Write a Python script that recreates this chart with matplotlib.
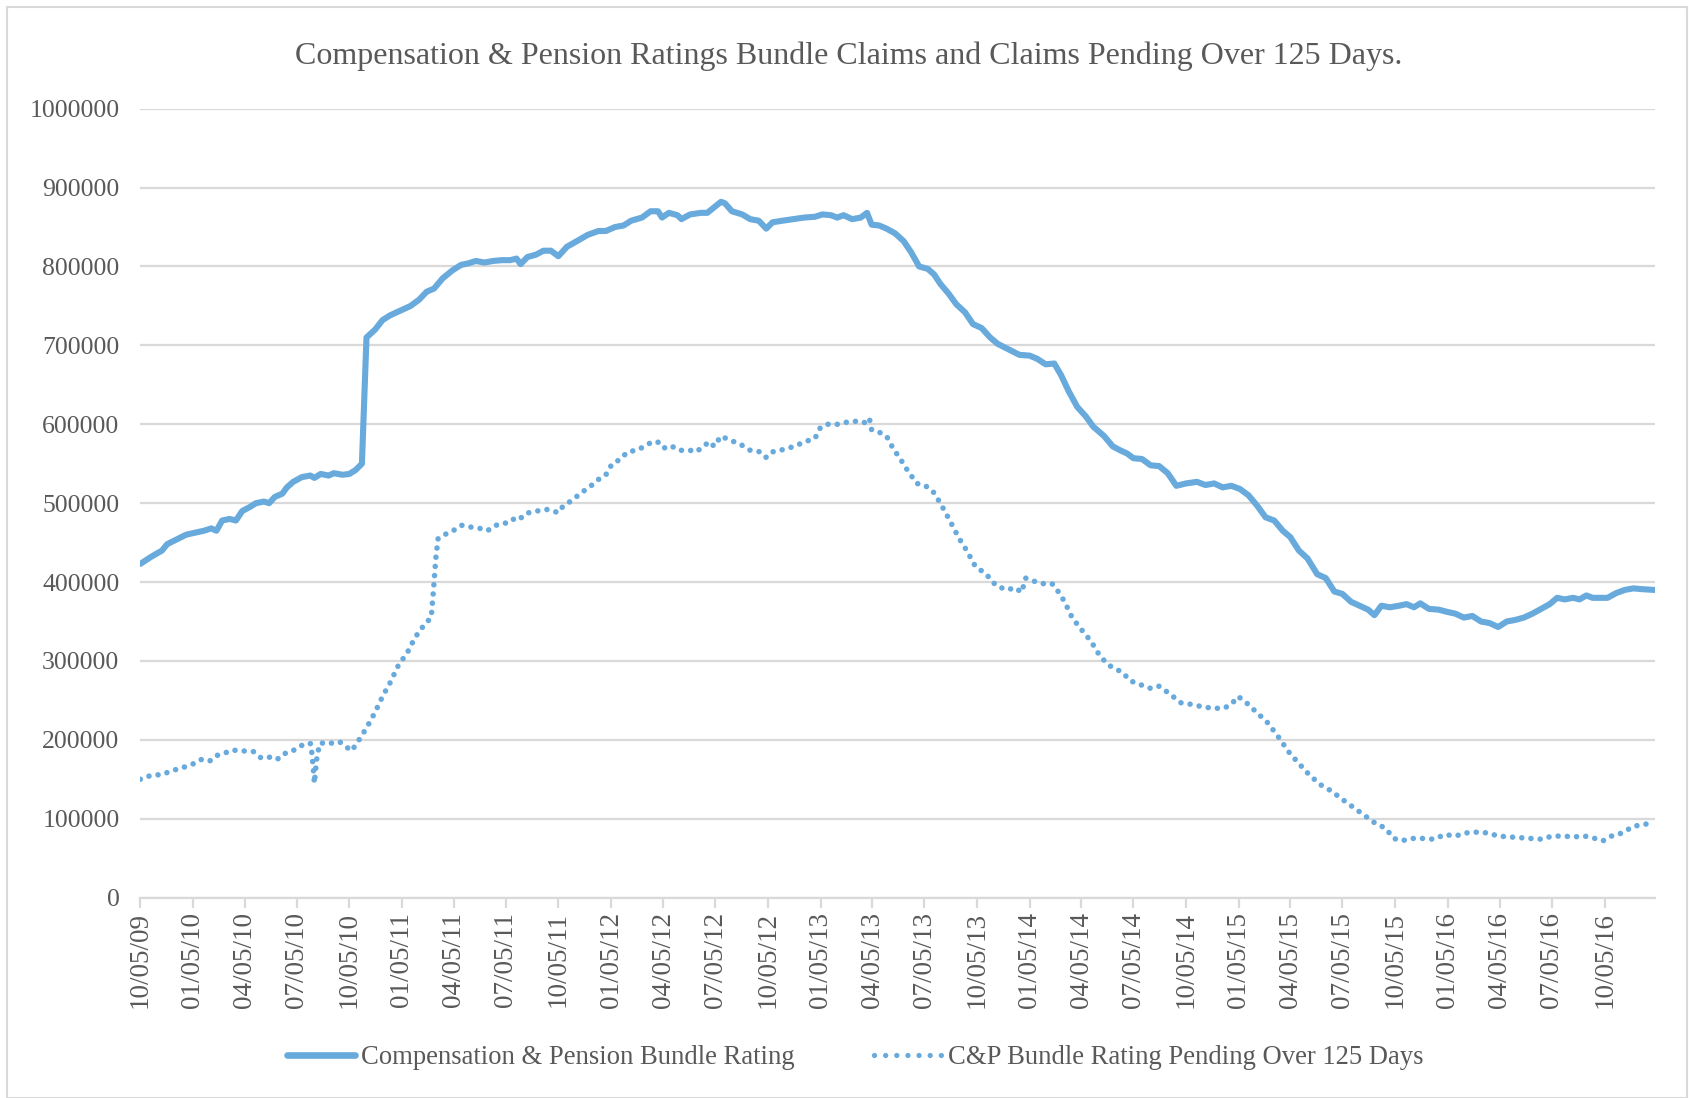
import pandas as pd
import matplotlib
matplotlib.use('Agg')
import matplotlib.pyplot as plt
import matplotlib.dates as mdates
from matplotlib.lines import Line2D
from matplotlib.patches import Rectangle
from matplotlib.ticker import MultipleLocator, FuncFormatter

# Compensation & Pension bundle rating claims
bundle_dates = [
    '2009-10-05', '2009-10-24', '2009-11-12', '2009-11-21', '2009-12-10', '2009-12-24',
    '2010-01-05', '2010-01-24', '2010-02-06', '2010-02-15', '2010-02-25', '2010-03-10',
    '2010-03-21', '2010-04-01', '2010-04-14', '2010-04-25', '2010-05-09', '2010-05-18',
    '2010-05-28', '2010-06-10', '2010-06-18', '2010-06-29', '2010-07-14', '2010-07-29',
    '2010-08-05', '2010-08-16', '2010-08-30', '2010-09-08', '2010-09-23', '2010-10-05',
    '2010-10-16', '2010-10-27', '2010-11-04', '2010-11-19', '2010-12-02', '2010-12-15',
    '2011-01-05', '2011-01-20', '2011-02-04', '2011-02-17', '2011-03-02', '2011-03-17',
    '2011-04-03', '2011-04-18', '2011-05-01', '2011-05-14', '2011-05-29', '2011-06-13',
    '2011-06-28', '2011-07-13', '2011-07-24', '2011-07-31', '2011-08-12', '2011-08-27',
    '2011-09-09', '2011-09-22', '2011-10-05', '2011-10-20', '2011-11-06', '2011-11-25',
    '2011-12-14', '2011-12-27', '2012-01-12', '2012-01-27', '2012-02-09', '2012-02-28',
    '2012-03-14', '2012-03-27', '2012-04-03', '2012-04-15', '2012-04-30', '2012-05-07',
    '2012-05-22', '2012-06-10', '2012-06-21', '2012-07-03', '2012-07-15', '2012-07-22',
    '2012-08-03', '2012-08-21', '2012-09-04', '2012-09-19', '2012-10-02', '2012-10-13',
    '2012-10-30', '2012-11-18', '2012-12-07', '2012-12-26', '2013-01-08', '2013-01-23',
    '2013-02-03', '2013-02-14', '2013-03-01', '2013-03-16', '2013-03-27', '2013-04-04',
    '2013-04-17', '2013-04-30', '2013-05-15', '2013-05-30', '2013-06-12', '2013-06-26',
    '2013-07-11', '2013-07-22', '2013-08-02', '2013-08-17', '2013-08-30', '2013-09-14',
    '2013-09-28', '2013-10-13', '2013-10-28', '2013-11-10', '2013-11-29', '2013-12-18',
    '2014-01-05', '2014-01-18', '2014-02-02', '2014-02-17', '2014-03-01', '2014-03-14',
    '2014-03-29', '2014-04-13', '2014-04-26', '2014-05-15', '2014-05-30', '2014-06-12',
    '2014-06-24', '2014-07-05', '2014-07-20', '2014-08-04', '2014-08-19', '2014-09-03',
    '2014-09-18', '2014-10-05', '2014-10-24', '2014-11-08', '2014-11-23', '2014-12-08',
    '2014-12-23', '2015-01-07', '2015-01-22', '2015-02-06', '2015-02-21', '2015-03-08',
    '2015-03-23', '2015-04-05', '2015-04-20', '2015-05-05', '2015-05-22', '2015-06-06',
    '2015-06-21', '2015-07-05', '2015-07-20', '2015-08-04', '2015-08-19', '2015-08-30',
    '2015-09-11', '2015-09-26', '2015-10-12', '2015-10-25', '2015-11-07', '2015-11-18',
    '2015-12-03', '2015-12-20', '2016-01-05', '2016-01-18', '2016-02-02', '2016-02-17',
    '2016-03-03', '2016-03-18', '2016-04-02', '2016-04-17', '2016-05-02', '2016-05-17',
    '2016-06-01', '2016-06-16', '2016-07-01', '2016-07-14', '2016-07-27', '2016-08-11',
    '2016-08-22', '2016-09-03', '2016-09-14', '2016-09-25', '2016-10-10', '2016-10-25',
    '2016-11-09', '2016-11-24', '2016-12-09', '2016-12-31',
]
bundle_values = [
    423000, 432000, 440000, 448000, 455000, 460000,
    462000, 465000, 468000, 465000, 478000, 480000,
    478000, 490000, 495000, 500000, 502000, 500000,
    508000, 512000, 520000, 527000, 533000, 535000,
    532000, 537000, 535000, 538000, 536000, 537000,
    542000, 550000, 710000, 720000, 732000, 738000,
    745000, 750000, 758000, 768000, 772000, 785000,
    795000, 802000, 804000, 807000, 805000, 807000,
    808000, 808000, 810000, 803000, 812000, 815000,
    820000, 820000, 813000, 825000, 832000, 840000,
    845000, 845000, 850000, 852000, 858000, 862000,
    870000, 870000, 862000, 868000, 865000, 860000,
    866000, 868000, 868000, 875000, 882000, 880000,
    870000, 866000, 860000, 858000, 848000, 856000,
    858000, 860000, 862000, 863000, 866000, 865000,
    862000, 865000, 860000, 862000, 868000, 853000,
    852000, 848000, 842000, 832000, 818000, 800000,
    797000, 790000, 778000, 765000, 752000, 742000,
    727000, 722000, 710000, 702000, 695000, 688000,
    687000, 683000, 676000, 677000, 662000, 642000,
    622000, 610000, 597000, 585000, 572000, 567000,
    563000, 557000, 556000, 548000, 547000, 538000,
    522000, 525000, 527000, 523000, 525000, 520000,
    522000, 518000, 510000, 497000, 482000, 478000,
    465000, 457000, 440000, 430000, 410000, 405000,
    388000, 385000, 375000, 370000, 365000, 358000,
    370000, 368000, 370000, 372000, 368000, 373000,
    366000, 365000, 362000, 360000, 355000, 357000,
    350000, 348000, 343000, 350000, 352000, 355000,
    360000, 366000, 372000, 380000, 378000, 380000,
    378000, 383000, 380000, 380000, 380000, 386000,
    390000, 392000, 391000, 390000,
]

# C&P bundle rating claims pending over 125 days
pending_dates = [
    '2009-10-05', '2009-10-24', '2009-11-12', '2009-11-30', '2009-12-19', '2010-01-07',
    '2010-01-19', '2010-02-03', '2010-02-15', '2010-03-01', '2010-03-14', '2010-04-02',
    '2010-04-21', '2010-05-04', '2010-05-19', '2010-06-01', '2010-06-11', '2010-06-26',
    '2010-07-11', '2010-07-24', '2010-07-30', '2010-08-03', '2010-08-05', '2010-08-09',
    '2010-08-14', '2010-08-26', '2010-09-10', '2010-09-19', '2010-09-28', '2010-10-09',
    '2010-10-22', '2010-11-04', '2010-11-19', '2010-12-02', '2010-12-15', '2010-12-30',
    '2011-01-14', '2011-01-28', '2011-02-12', '2011-02-25', '2011-03-01', '2011-03-05',
    '2011-03-09', '2011-03-20', '2011-04-04', '2011-04-19', '2011-05-02', '2011-05-21',
    '2011-06-03', '2011-06-18', '2011-07-03', '2011-07-16', '2011-07-27', '2011-08-09',
    '2011-08-28', '2011-09-16', '2011-10-05', '2011-10-14', '2011-10-28', '2011-11-12',
    '2011-12-01', '2011-12-14', '2011-12-27', '2012-01-07', '2012-01-20', '2012-02-03',
    '2012-02-18', '2012-03-04', '2012-03-17', '2012-03-30', '2012-04-07', '2012-04-18',
    '2012-05-03', '2012-05-22', '2012-06-02', '2012-06-14', '2012-06-25', '2012-07-03',
    '2012-07-15', '2012-07-30', '2012-08-17', '2012-09-04', '2012-09-22', '2012-10-02',
    '2012-10-13', '2012-11-01', '2012-11-20', '2012-12-09', '2012-12-26', '2013-01-04',
    '2013-01-15', '2013-02-03', '2013-02-22', '2013-03-12', '2013-03-22', '2013-03-31',
    '2013-04-04', '2013-04-17', '2013-04-30', '2013-05-11', '2013-05-25', '2013-06-07',
    '2013-06-22', '2013-07-07', '2013-07-20', '2013-08-02', '2013-08-17', '2013-09-04',
    '2013-09-17', '2013-10-02', '2013-10-21', '2013-11-08', '2013-11-27', '2013-12-10',
    '2013-12-22', '2013-12-29', '2014-01-09', '2014-01-25', '2014-02-13', '2014-02-22',
    '2014-03-07', '2014-03-20', '2014-04-05', '2014-04-22', '2014-05-07', '2014-05-22',
    '2014-06-04', '2014-06-17', '2014-06-29', '2014-07-17', '2014-08-05', '2014-08-19',
    '2014-09-07', '2014-09-26', '2014-10-14', '2014-11-02', '2014-11-21', '2014-12-10',
    '2014-12-23', '2015-01-04', '2015-01-17', '2015-02-05', '2015-02-24', '2015-03-14',
    '2015-04-02', '2015-04-20', '2015-05-09', '2015-05-28', '2015-06-16', '2015-07-04',
    '2015-07-23', '2015-08-11', '2015-08-30', '2015-09-18', '2015-10-03', '2015-10-16',
    '2015-11-04', '2015-11-23', '2015-12-12', '2015-12-31', '2016-01-18', '2016-02-06',
    '2016-02-25', '2016-03-15', '2016-04-02', '2016-04-21', '2016-05-10', '2016-05-29',
    '2016-06-17', '2016-07-05', '2016-07-24', '2016-08-12', '2016-08-31', '2016-09-18',
    '2016-10-02', '2016-10-17', '2016-11-05', '2016-11-23', '2016-12-12', '2016-12-31',
]
pending_values = [
    150000, 155000, 156000, 161000, 165000, 170000,
    175000, 173000, 180000, 183000, 187000, 186000,
    185000, 177000, 178000, 175000, 182000, 185000,
    192000, 196000, 195000, 165000, 145000, 175000,
    195000, 197000, 195000, 197000, 192000, 186000,
    200000, 215000, 235000, 255000, 272000, 295000,
    310000, 330000, 345000, 355000, 390000, 430000,
    455000, 460000, 465000, 472000, 470000, 468000,
    465000, 472000, 474000, 480000, 478000, 487000,
    490000, 492000, 488000, 497000, 503000, 512000,
    522000, 530000, 536000, 550000, 555000, 565000,
    567000, 572000, 578000, 577000, 570000, 573000,
    567000, 567000, 565000, 572000, 578000, 572000,
    585000, 580000, 575000, 567000, 565000, 558000,
    565000, 568000, 572000, 578000, 582000, 595000,
    600000, 600000, 603000, 604000, 602000, 608000,
    593000, 590000, 585000, 570000, 555000, 540000,
    525000, 522000, 515000, 500000, 480000, 455000,
    440000, 420000, 410000, 395000, 390000, 393000,
    387000, 405000, 402000, 398000, 398000, 390000,
    375000, 355000, 340000, 325000, 307000, 295000,
    290000, 285000, 275000, 270000, 265000, 268000,
    258000, 247000, 245000, 242000, 240000, 240000,
    245000, 255000, 248000, 235000, 222000, 205000,
    185000, 170000, 155000, 143000, 135000, 125000,
    115000, 105000, 95000, 88000, 75000, 72000,
    75000, 75000, 74000, 80000, 78000, 82000,
    83000, 82000, 78000, 77000, 76000, 75000,
    74000, 78000, 78000, 77000, 78000, 75000,
    72000, 78000, 82000, 90000, 93000, 94000,
]

title = 'Compensation & Pension Ratings Bundle Claims and Claims Pending Over 125 Days.'
label_bundle = 'Compensation & Pension Bundle Rating'
label_pending = 'C&P Bundle Rating Pending Over 125 Days'

blue = '#69AADD'
text_grey = '#595959'
grid_grey = '#D9D9D9'

plt.rcParams['font.family'] = ['Liberation Serif', 'DejaVu Serif']

bundle_df = pd.DataFrame({'date': pd.to_datetime(bundle_dates), 'value': bundle_values})
pending_df = pd.DataFrame({'date': pd.to_datetime(pending_dates), 'value': pending_values})

fig = plt.figure(figsize=(16.9, 10.98), dpi=100)
ax = fig.add_axes([0.083, 0.1825, 0.896, 0.7185])

ax.plot(bundle_df['date'], bundle_df['value'], color=blue, lw=4.4,
        solid_joinstyle='round', solid_capstyle='round')
ax.plot(pending_df['date'], pending_df['value'], color=blue, lw=4.0,
        linestyle=(0, (0.01, 1.65)), dash_capstyle='round')

ax.set_xlim(pd.Timestamp('2009-10-05'), pd.Timestamp('2016-12-31'))
ax.set_ylim(0, 1000000)
ax.yaxis.set_major_locator(MultipleLocator(100000))
ax.yaxis.set_major_formatter(FuncFormatter(lambda v, p: f'{int(v)}'))
ax.grid(axis='y', color=grid_grey, lw=1.6)
ax.set_axisbelow(True)

ax.xaxis.set_major_locator(mdates.MonthLocator(bymonth=[1, 4, 7, 10], bymonthday=5))
ax.xaxis.set_major_formatter(mdates.DateFormatter('%m/%d/%y'))
ax.tick_params(axis='x', rotation=90, labelsize=19.5, labelcolor=text_grey,
               color=grid_grey, width=1.6, length=7, pad=3)
ax.tick_params(axis='y', length=0, labelsize=18.5, labelcolor=text_grey, pad=15)

for side in ['top', 'right', 'left']:
    ax.spines[side].set_visible(False)
ax.spines['bottom'].set_color(grid_grey)
ax.spines['bottom'].set_linewidth(1.6)

fig.text(0.502, 0.949, title, ha='center', va='center', fontsize=23, color=text_grey)

handles = [
    Line2D([], [], color=blue, lw=4.8, solid_capstyle='round'),
    Line2D([], [], color=blue, lw=3.8, linestyle=(0, (0.01, 2.1)), dash_capstyle='round'),
]
fig.legend(handles, [label_bundle, label_pending], loc='center', bbox_to_anchor=(0.506, 0.037),
           ncol=2, frameon=False, fontsize=19.2, handlelength=2.55, handletextpad=0.2,
           columnspacing=3.0, labelcolor=text_grey)

fig.patches.append(Rectangle((0.004, 0.0), 0.994, 0.994, transform=fig.transFigure,
                             fill=False, edgecolor=grid_grey, lw=1.5))

fig.savefig('out.png', dpi=100)
